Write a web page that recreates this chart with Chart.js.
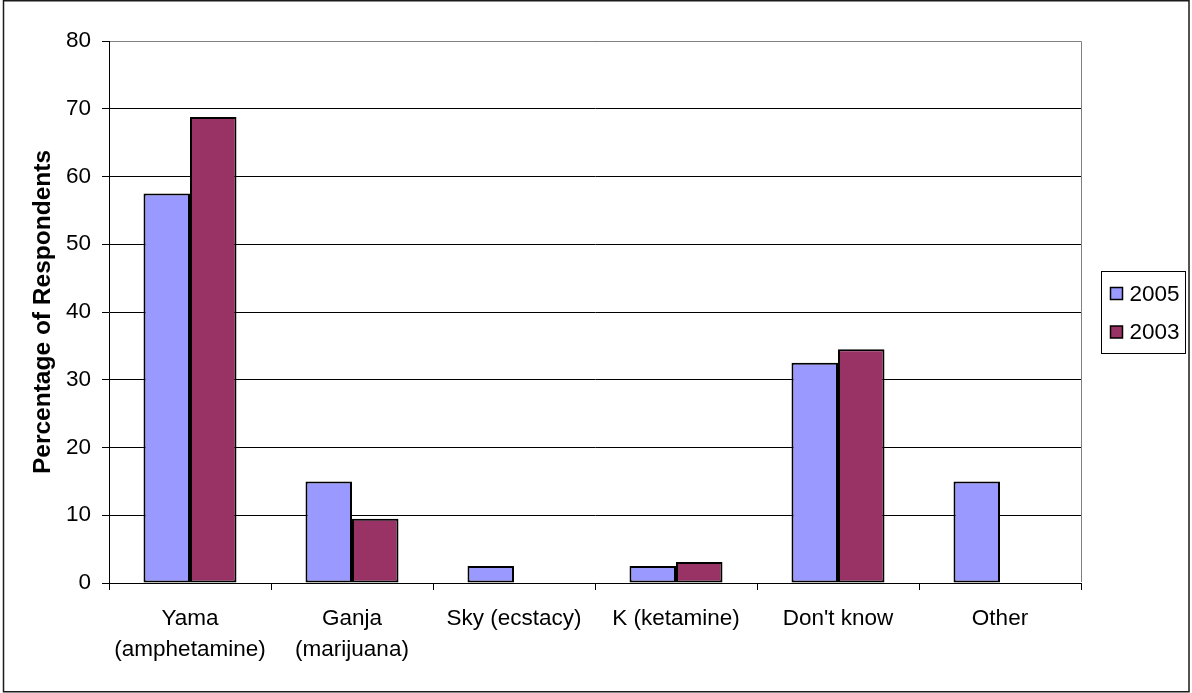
<!DOCTYPE html>
<html>
<head>
<meta charset="utf-8">
<script src="https://cdn.jsdelivr.net/npm/chart.js@4/dist/chart.umd.min.js"></script>
<style>
  html, body { margin: 0; padding: 0; background: #ffffff; }
  #wrap { width: 1192px; height: 693px; position: relative; }
</style>
</head>
<body>
<div id="wrap"><canvas id="c" width="1192" height="693"></canvas></div>
<script>
// Drug types named by respondents (percentage), survey years 2005 and 2003
const categories = [
  ['Yama', '(amphetamine)'],
  ['Ganja', '(marijuana)'],
  'Sky (ecstacy)',
  'K (ketamine)',
  "Don't know",
  'Other'
];
const values2005 = [57.5, 15, 2.5, 2.5, 32.5, 15];
const values2003 = [68.8, 9.5, null, 3.1, 34.5, null];
const seriesLabels = ['2005', '2003'];
const yTicks = [0, 10, 20, 30, 40, 50, 60, 70, 80];

const FONT = "'Liberation Sans', Arial, Helvetica, sans-serif";
const TEXT_SIZE = 22.5;

// Outer frame, plot-area border (top/right) and the boxed legend on the right
const framePlugin = {
  id: 'frame',
  beforeDraw(chart) {
    const ctx = chart.ctx;
    ctx.save();
    ctx.fillStyle = '#ffffff';
    ctx.fillRect(0, 0, chart.width, chart.height);
    ctx.restore();
  },
  afterDraw(chart) {
    const ctx = chart.ctx;
    const ca = chart.chartArea;
    ctx.save();
    // plot area border (top and right, grey)
    ctx.strokeStyle = '#808080';
    ctx.lineWidth = 1;
    ctx.beginPath();
    ctx.moveTo(ca.left + 1, Math.round(ca.top) + 0.5);
    ctx.lineTo(Math.round(ca.right) + 0.5, Math.round(ca.top) + 0.5);
    ctx.lineTo(Math.round(ca.right) + 0.5, Math.round(ca.bottom) - 1);
    ctx.stroke();

    // legend
    const boxW = 84, boxH = 82;
    const lx = Math.round(ca.right) + 20.5;
    const cy = (ca.top + ca.bottom) / 2;
    const ly = Math.round(cy - boxH / 2) + 0.5;
    ctx.strokeStyle = '#000000';
    ctx.lineWidth = 1;
    ctx.strokeRect(lx, ly, boxW, boxH);
    ctx.font = TEXT_SIZE + 'px ' + FONT;
    ctx.textBaseline = 'middle';
    ctx.textAlign = 'left';
    chart.data.datasets.forEach((ds, i) => {
      const rowY = ly + 22 + i * 38.5;
      ctx.fillStyle = ds.backgroundColor;
      ctx.fillRect(lx + 9, rowY - 6, 12, 12);
      ctx.strokeStyle = '#000000';
      ctx.lineWidth = 1.5;
      ctx.strokeRect(lx + 9, rowY - 6, 12, 12);
      ctx.fillStyle = '#000000';
      ctx.fillText(ds.label, lx + 28, rowY + 1);
    });

    // outer chart frame
    ctx.strokeStyle = '#1a1a1a';
    ctx.lineWidth = 1.5;
    ctx.strokeRect(3.5, 0.75, 1185.5, 691);
    ctx.restore();
  }
};

new Chart(document.getElementById('c'), {
  type: 'bar',
  data: {
    labels: categories,
    datasets: [
      {
        label: seriesLabels[0],
        data: values2005,
        backgroundColor: '#9999FF',
        borderColor: '#000000',
        borderWidth: 2,
        borderSkipped: false
      },
      {
        label: seriesLabels[1],
        data: values2003,
        backgroundColor: '#993366',
        borderColor: '#000000',
        borderWidth: 2,
        borderSkipped: false
      }
    ]
  },
  options: {
    responsive: false,
    animation: false,
    layout: { padding: { top: 41, right: 111, bottom: 0, left: 0 } },
    datasets: {
      bar: { categoryPercentage: 0.574, barPercentage: 1.0 }
    },
    plugins: {
      legend: { display: false },
      tooltip: { enabled: false }
    },
    scales: {
      x: {
        offset: true,
        grid: {
          offset: true,
          drawOnChartArea: false,
          drawTicks: true,
          tickLength: 7,
          color: '#000000',
          lineWidth: 1
        },
        border: { color: '#000000', width: 1 },
        ticks: {
          color: '#000000',
          font: { family: FONT, size: TEXT_SIZE, lineHeight: 1.38 },
          padding: 13,
          maxRotation: 0,
          minRotation: 0,
          autoSkip: false
        },
        afterFit(scale) { scale.height = 110; }
      },
      y: {
        min: 0,
        max: 80,
        afterBuildTicks(scale) { scale.ticks = yTicks.map(v => ({ value: v })); },
        grid: {
          color: '#000000',
          lineWidth: 1,
          tickLength: 7,
          drawTicks: true
        },
        border: { color: '#000000', width: 1 },
        ticks: {
          color: '#000000',
          font: { family: FONT, size: TEXT_SIZE },
          padding: 11
        },
        title: {
          display: true,
          text: 'Percentage of Respondents',
          color: '#000000',
          font: { family: FONT, size: 24.5, weight: 'bold' },
          padding: { top: 28.5, bottom: 0 }
        },
        afterFit(scale) { scale.width = 109; }
      }
    }
  },
  plugins: [framePlugin]
});
</script>
</body>
</html>
